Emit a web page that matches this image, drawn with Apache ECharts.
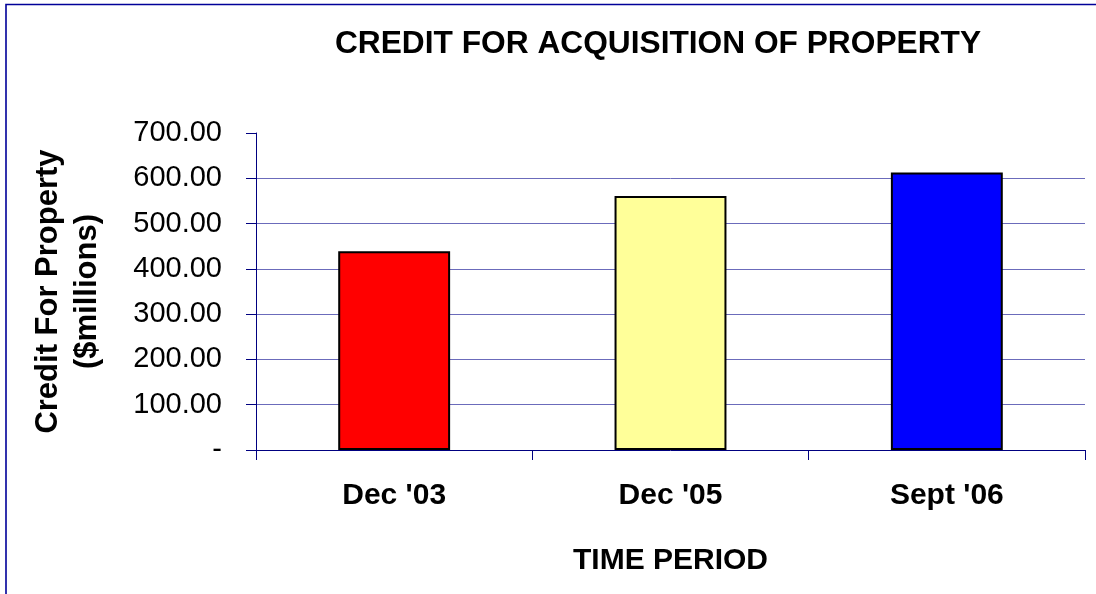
<!DOCTYPE html>
<html>
<head>
<meta charset="utf-8">
<script src="https://cdn.jsdelivr.net/npm/echarts@6/dist/echarts.min.js"></script>
<style>
  html, body { margin: 0; padding: 0; background: #ffffff; }
  #chart { width: 1096px; height: 594px; }
</style>
</head>
<body>
<div id="chart"></div>
<script>
const titleText = 'CREDIT FOR ACQUISITION OF PROPERTY';
const categories = ["Dec '03", "Dec '05", "Sept '06"];
const values = [439, 561, 613];
const barColors = ['#FF0000', '#FFFF99', '#0000FF'];
const yAxisName = 'Credit For Property\n($millions)';
const xAxisName = 'TIME PERIOD';

const FONT = '"Liberation Sans", Arial, sans-serif';

const chart = echarts.init(document.getElementById('chart'), null, { renderer: 'canvas' });

chart.setOption({
  backgroundColor: '#ffffff',
  animation: false,
  title: {
    text: titleText,
    left: 653,
    top: 23,
    textAlign: 'center',
    textStyle: { fontFamily: FONT, fontSize: 31.7, fontWeight: 'bold', color: '#000000' }
  },
  graphic: [{
    type: 'rect',
    shape: { x: 6, y: 4.5, width: 2000, height: 2000 },
    style: { fill: 'none', stroke: '#000099', lineWidth: 1.6 },
    silent: true
  }],
  grid: { left: 256, right: 11, top: 133, bottom: 144, containLabel: false },
  xAxis: {
    type: 'category',
    data: categories,
    boundaryGap: true,
    name: xAxisName,
    nameLocation: 'middle',
    nameGap: 96,
    nameTextStyle: { fontFamily: FONT, fontSize: 30, fontWeight: 'bold', color: '#000000' },
    axisLine: { show: true, lineStyle: { color: '#000080', width: 1 } },
    axisTick: { show: true, inside: false, length: 10, alignWithLabel: false, lineStyle: { color: '#000080', width: 1 } },
    axisLabel: { margin: 31, fontFamily: FONT, fontSize: 30, fontWeight: 'bold', color: '#000000' },
    splitLine: { show: false }
  },
  yAxis: {
    type: 'value',
    min: 0,
    max: 700,
    interval: 100,
    name: yAxisName,
    nameLocation: 'middle',
    nameRotate: 90,
    nameGap: 149,
    nameTextStyle: { fontFamily: FONT, fontSize: 31, fontWeight: 'bold', color: '#000000', lineHeight: 39, align: 'center' },
    axisLine: { show: true, lineStyle: { color: '#000080', width: 1 } },
    axisTick: { show: true, inside: false, length: 10, lineStyle: { color: '#000080', width: 1 } },
    axisLabel: {
      margin: 34,
      fontFamily: FONT, fontSize: 29, color: '#000000',
      formatter: function (v) { return v === 0 ? '-' : v.toFixed(2); }
    },
    splitLine: { show: true, showMinLine: false, showMaxLine: false, lineStyle: { color: '#6b6bbb', width: 1 } }
  },
  series: [{
    type: 'bar',
    data: values.map(function (v, i) {
      return { value: v, itemStyle: { color: barColors[i] } };
    }),
    barWidth: '40.5%',
    itemStyle: { borderColor: '#000000', borderWidth: 2 },
    emphasis: { disabled: true }
  }]
});
</script>
</body>
</html>
